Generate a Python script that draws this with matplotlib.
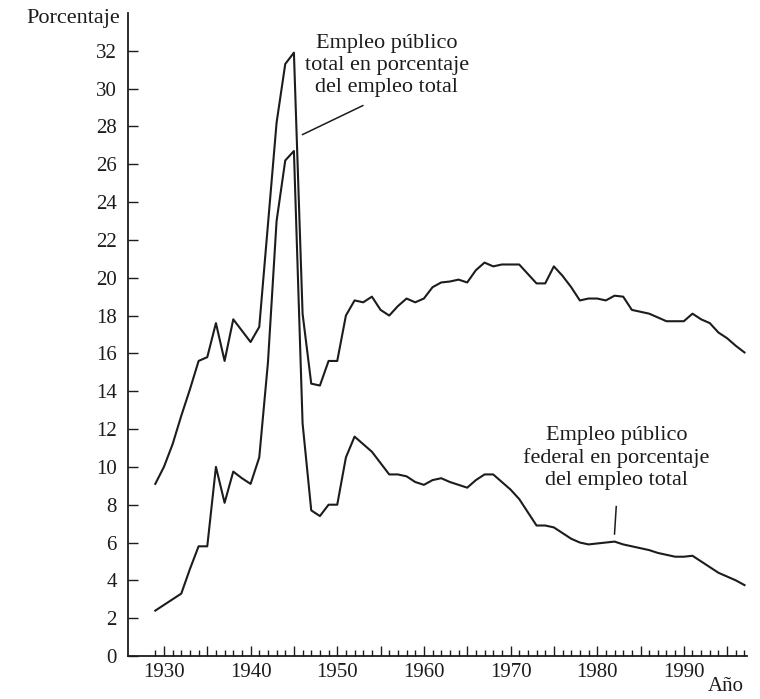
import matplotlib.pyplot as plt
from matplotlib.ticker import FixedLocator

# ----------------------------
# Data
# ----------------------------
years = list(range(1929, 1998))

total_pct = [
    9.1, 10.0, 11.2, 12.7, 14.1, 15.6, 15.8, 17.6, 15.6, 17.8,   # 1929-1938
    17.2, 16.6, 17.4, 22.8, 28.2, 31.3, 31.9, 18.1, 14.4, 14.3,  # 1939-1948
    15.6, 15.6, 18.0, 18.8, 18.7, 19.0, 18.3, 18.0, 18.5, 18.9,  # 1949-1958
    18.7, 18.9, 19.5, 19.75, 19.8, 19.9, 19.75, 20.4, 20.8, 20.6,  # 1959-1968
    20.7, 20.7, 20.7, 20.2, 19.7, 19.7, 20.6, 20.1, 19.5, 18.8,  # 1969-1978
    18.9, 18.9, 18.8, 19.05, 19.0, 18.3, 18.2, 18.1, 17.9, 17.7,  # 1979-1988
    17.7, 17.7, 18.1, 17.8, 17.6, 17.1, 16.8, 16.4, 16.05,       # 1989-1997
]

federal_pct = [
    2.4, 2.7, 3.0, 3.3, 4.6, 5.8, 5.8, 10.0, 8.1, 9.75,          # 1929-1938
    9.4, 9.1, 10.5, 15.5, 23.0, 26.2, 26.7, 12.3, 7.7, 7.4,      # 1939-1948
    8.0, 8.0, 10.5, 11.6, 11.2, 10.8, 10.2, 9.6, 9.6, 9.5,       # 1949-1958
    9.2, 9.05, 9.3, 9.4, 9.2, 9.05, 8.9, 9.3, 9.6, 9.6,          # 1959-1968
    9.2, 8.8, 8.3, 7.6, 6.9, 6.9, 6.8, 6.5, 6.2, 6.0,            # 1969-1978
    5.9, 5.95, 6.0, 6.05, 5.9, 5.8, 5.7, 5.6, 5.45, 5.35,        # 1979-1988
    5.25, 5.25, 5.3, 5.0, 4.7, 4.4, 4.2, 4.0, 3.75,              # 1989-1997
]

y_ticks = list(range(0, 33, 2))

# ----------------------------
# Figure
# ----------------------------
plt.rcParams["font.family"] = ["Liberation Serif", "DejaVu Serif"]
ink = "#1c1c1c"

fig = plt.figure(figsize=(7.6, 6.99), dpi=100)
ax = fig.add_axes([0.1684, 0.0615, 0.8146, 0.92])

ax.plot(years, total_pct, color=ink, lw=1.5)
ax.plot(years, federal_pct, color=ink, lw=1.5)

ax.set_xlim(1925.85, 1997.3)
ax.set_ylim(0, 34)

for side in ["top", "right"]:
    ax.spines[side].set_visible(False)
for side in ["left", "bottom"]:
    ax.spines[side].set_color(ink)
    ax.spines[side].set_linewidth(1.3)

# y axis ticks
ax.set_yticks(y_ticks)
ax.set_yticklabels([str(v) for v in y_ticks])
ax.tick_params(axis="y", direction="in", length=7, width=1.0, color=ink,
               labelsize=15, pad=8, labelcolor=ink)

# x axis ticks: major every 5 years, labels every 10, minor every year
majors = list(range(1930, 1996, 5))
ax.xaxis.set_major_locator(FixedLocator(majors))
ax.set_xticklabels([str(m) if m % 10 == 0 else "" for m in majors])
ax.xaxis.set_minor_locator(FixedLocator(list(range(1929, 1998))))
ax.tick_params(axis="x", which="major", direction="in", length=7, width=1.0,
               color=ink, labelsize=15, pad=5, labelcolor=ink)
ax.tick_params(axis="x", which="minor", direction="in", length=4, width=1.0,
               color=ink)

# annotations
ax.text(1955.7, 31.2, "Empleo público\ntotal en porcentaje\ndel empleo total",
        ha="center", va="center", fontsize=16, color=ink, linespacing=1.22)
ax.plot([1946.0, 1952.95], [27.57, 29.1], color=ink, lw=1.1)

ax.text(1982.25, 10.48, "Empleo público\nfederal en porcentaje\ndel empleo total",
        ha="center", va="center", fontsize=16, color=ink, linespacing=1.22)
ax.plot([1982.2, 1982.0], [7.9, 6.45], color=ink, lw=1.1)

fig.text(120 / 760, 1 - 19 / 699, "Porcentaje", ha="right", va="center",
         fontsize=16, color=ink)
fig.text(726 / 760, 3 / 699, "Año", ha="center", va="bottom",
         fontsize=15, color=ink)

fig.savefig("out.png", dpi=100)
